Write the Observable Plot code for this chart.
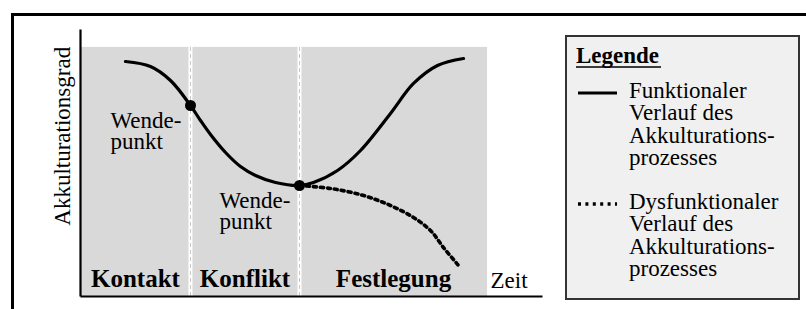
<!DOCTYPE html>
<html><head><meta charset="utf-8">
<script src="https://cdn.jsdelivr.net/npm/d3@7"></script>
<script src="https://cdn.jsdelivr.net/npm/@observablehq/plot@0.6"></script>
<style>
html,body{margin:0;padding:0;background:#fff;}
#wrap{position:relative;width:806px;height:309px;overflow:hidden;font-family:'Liberation Serif';}
#frame{position:absolute;left:11px;top:13px;width:1000px;height:1000px;border:3.5px solid #000;}
#chart{position:absolute;left:0;top:0;}
#legend{position:absolute;left:565px;top:35px;width:235px;height:265px;box-sizing:border-box;background:#f0f0f0;border:2px solid #333;}
#legend svg{display:block;}
</style></head><body>
<div id="wrap"><div id="frame"></div><div id="chart"></div><div id="legend"></div></div>
<script>
// ---- data (x = Zeit 0..100, y = Akkulturationsgrad 0..100) ----
const phases = ["Kontakt", "Konflikt", "Festlegung"];
const phaseBounds = [0, 23.8, 47.4, 88.1];
const panelTop = 93.3;
const functionalX = [9.74, 15.15, 19.48, 23.81, 25.97, 28.14, 31.39, 34.63, 37.88, 42.21, 47.40, 50.43, 55.63, 60.61, 67.10, 72.08, 77.27, 82.90];
const functionalY = [88.01, 86.14, 80.90, 71.54, 65.92, 60.67, 53.93, 48.69, 45.32, 42.70, 41.57, 42.70, 47.19, 54.68, 68.54, 79.78, 86.52, 89.14];
const dysfunctionalX = [47.40, 54.11, 61.26, 67.10, 72.08, 75.76, 78.57, 81.82];
const dysfunctionalY = [41.57, 40.45, 37.83, 34.08, 29.59, 24.72, 18.35, 11.61];
const turningX = [23.81, 47.40];
const turningY = [71.54, 41.57];
const turningLabel = "Wende-\npunkt";
const yLabel = "Akkulturationsgrad";
const xLabel = "Zeit";
const legendTitle = "Legende";
const legendItems = ["Funktionaler\nVerlauf des\nAkkulturations-\nprozesses", "Dysfunktionaler\nVerlauf des\nAkkulturations-\nprozesses"];
const legendDash = [null, "3,4.4"];

// ---- tables ----
const functional = functionalX.map((x, i) => ({x, y: functionalY[i]}));
const dysfunctional = dysfunctionalX.map((x, i) => ({x, y: dysfunctionalY[i]}));
const turning = turningX.map((x, i) => ({x, y: turningY[i], label: turningLabel}));
const phaseRows = phases.map((p, i) => ({phase: p, x1: phaseBounds[i], x2: phaseBounds[i + 1]}));

const font = "Liberation Serif";
const plot = Plot.plot({
  width: 806, height: 309,
  marginLeft: 80, marginRight: 264, marginTop: 29, marginBottom: 13,
  x: {domain: [0, 100], axis: null},
  y: {domain: [0, 100], axis: null},
  style: {fontFamily: font, fontSize: "23px", background: "transparent", overflow: "visible", color: "#000"},
  marks: [
    Plot.rect(phaseRows, {x1: "x1", x2: "x2", y1: 0, y2: panelTop, fill: "#d9d9d9"}),
    Plot.ruleX(phaseBounds.slice(1, 3), {y1: 0, y2: panelTop, stroke: "#fff", strokeWidth: 4}),
    Plot.ruleX(phaseBounds.slice(1, 3), {y1: 0, y2: panelTop, stroke: "#c8c8c8", strokeWidth: 1, strokeDasharray: "4,3"}),
    Plot.line(dysfunctional, {x: "x", y: "y", curve: "catmull-rom", stroke: "#000", strokeWidth: 3.6, strokeDasharray: "3,4"}),
    Plot.line(functional, {x: "x", y: "y", curve: "catmull-rom", stroke: "#000", strokeWidth: 3.2}),
    Plot.dot(turning, {x: "x", y: "y", r: 5.5, fill: "#000"}),
    Plot.text(turning, {x: "x", y: "y", text: "label", dx: -80, dy: 43.5, textAnchor: "start", lineAnchor: "bottom", lineHeight: 0.92, fontSize: 23, fontFamily: font, fill: "#000"}),
    Plot.text(phaseRows, {x: d => (d.x1 + d.x2) / 2, y: 0, dy: -10, text: "phase", fontWeight: "bold", fontSize: 25, fontFamily: font, textAnchor: "middle", lineAnchor: "bottom", fill: "#000"}),
    Plot.text([xLabel], {x: phaseBounds[3], y: 0, dx: 3, dy: -9, text: d => d, textAnchor: "start", lineAnchor: "bottom", fontSize: 23, fontFamily: font, fill: "#000"}),
    Plot.text([yLabel], {x: 0, y: 60, dx: -11, text: d => d, rotate: -90, textAnchor: "middle", lineAnchor: "bottom", fontSize: 23, fontFamily: font, fill: "#000"}),
    Plot.link([0], {x1: 0, y1: 0, x2: 0, y2: 100, stroke: "#000", strokeWidth: 2.2, ariaLabel: "axisarrow"}),
    Plot.link([0], {x1: 0, y1: 0, x2: 100, y2: 0, stroke: "#000", strokeWidth: 2.2, ariaLabel: "axisarrow"})
  ]
});
const svg = d3.select(plot);
const marker = svg.append("defs").append("marker")
  .attr("id", "ah").attr("viewBox", "0 0 16 10")
  .attr("markerWidth", 16).attr("markerHeight", 10)
  .attr("markerUnits", "userSpaceOnUse")
  .attr("refX", 15).attr("refY", 5).attr("orient", "auto");
marker.append("path").attr("d", "M0,0L16,5L0,10Z").attr("fill", "#000");
svg.selectAll('g[aria-label="axisarrow"] path').attr("marker-end", "url(#ah)");
document.getElementById("chart").appendChild(plot);

// ---- legend ----
const lg = d3.select("#legend").append("svg").attr("width", 231).attr("height", 261);
lg.append("text").attr("x", 9).attr("y", 26).attr("font-family", font).attr("font-size", 23)
  .attr("font-weight", "bold").text(legendTitle);
lg.append("line").attr("x1", 9).attr("x2", 94).attr("y1", 30).attr("y2", 30).attr("stroke", "#000").attr("stroke-width", 1.5);
const starts = [61, 172];
const lh = 22.3;
legendItems.forEach((txt, i) => {
  const y0 = starts[i];
  const sample = lg.append("line").attr("x1", 11).attr("x2", 50).attr("y1", y0 - 5).attr("y2", y0 - 5)
    .attr("stroke", "#000").attr("stroke-width", 3.2);
  if (legendDash[i]) sample.attr("stroke-dasharray", legendDash[i]).attr("stroke-width", 3.6);
  const t = lg.append("text").attr("x", 62).attr("y", y0).attr("font-family", font).attr("font-size", 23);
  txt.split("\n").forEach((line, j) => {
    t.append("tspan").attr("x", 62).attr("y", y0 + j * lh).text(line);
  });
});
</script>
</body></html>
